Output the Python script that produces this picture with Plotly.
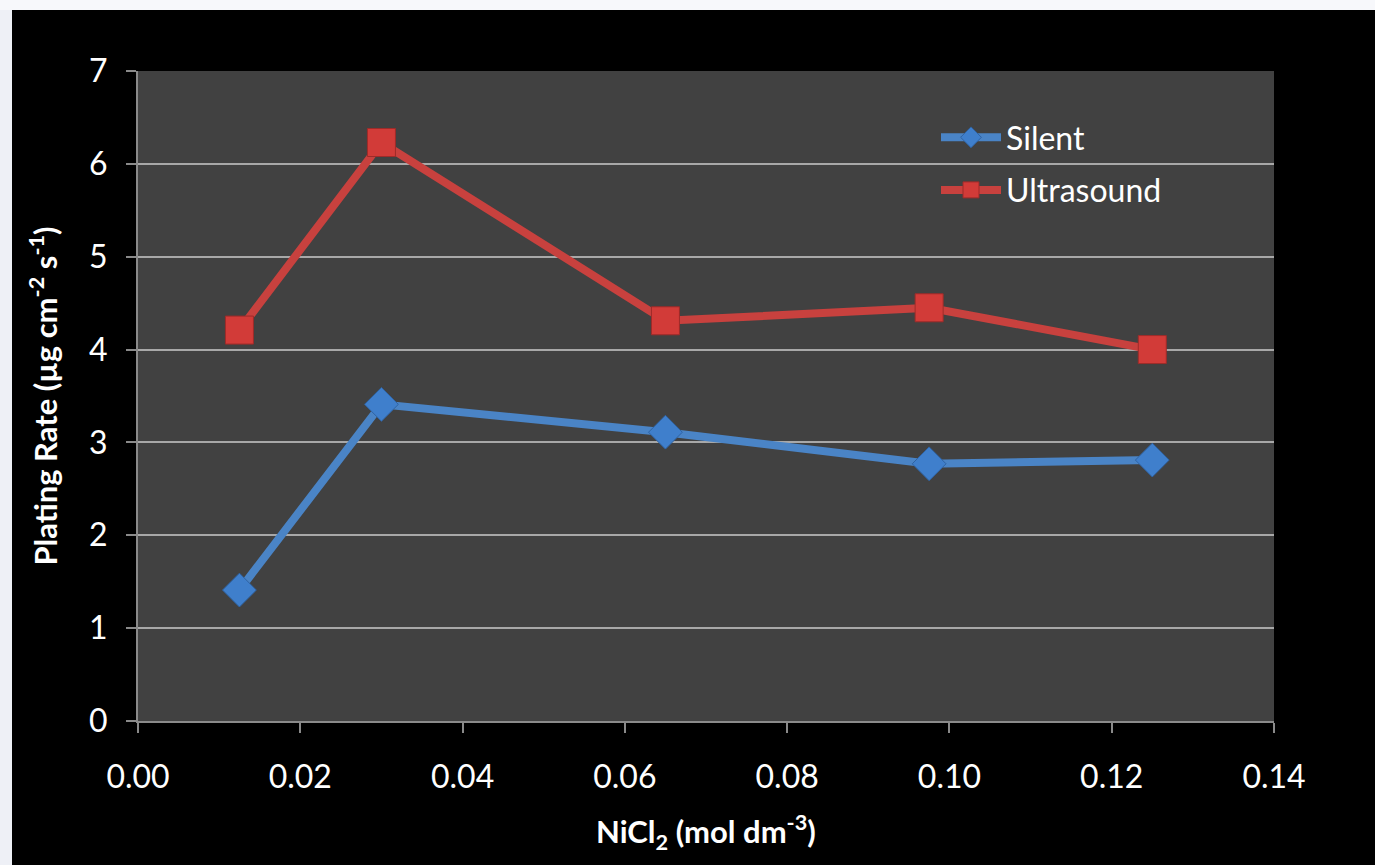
import plotly.graph_objects as go

# Data
nicl2 = [0.0125, 0.03, 0.065, 0.0975, 0.125]
silent = [1.41, 3.41, 3.11, 2.77, 2.81]
ultrasound = [4.21, 6.23, 4.31, 4.45, 4.00]
x_ticks = [0.00, 0.02, 0.04, 0.06, 0.08, 0.10, 0.12, 0.14]
y_ticks = [0, 1, 2, 3, 4, 5, 6, 7]
x_title = "<b>NiCl<sub>2</sub> (mol dm<sup>-3</sup>)</b>"
y_title = "<b>Plating Rate (µg cm<sup>-2</sup> s<sup>-1</sup>)</b>"

W, H = 1375, 865
L, R, T, B = 138, 101, 71, 144
pw, ph = W - L - R, H - T - B

FONT = "Lato"

fig = go.Figure()
fig.add_trace(go.Scatter(
    x=nicl2, y=silent, name="Silent", mode="lines+markers", legendgroup="s",
    line=dict(color="#4a84c6", width=8),
    marker=dict(symbol="diamond", size=26, color="#3f7fcc",
                line=dict(color="#2f63a3", width=1)),
))
fig.add_trace(go.Scatter(
    x=nicl2, y=ultrasound, name="Ultrasound", mode="lines+markers", legendgroup="u",
    line=dict(color="#c8413e", width=8),
    marker=dict(symbol="square", size=28, color="#d23b38",
                line=dict(color="#9e2b29", width=1)),
))

# light slide strips (left and top)
fig.add_shape(type="rect", xref="paper", yref="paper", layer="above",
              x0=-0.3, x1=(12 - L) / pw, y0=-0.4, y1=1.3,
              fillcolor="#eef0f6", line=dict(width=0))
fig.add_shape(type="rect", xref="paper", yref="paper", layer="above",
              x0=-0.3, x1=1.3, y0=(H - B - 10) / ph, y1=1.3,
              fillcolor="#f7f8fb", line=dict(width=0))

# x-axis title
fig.add_annotation(text=x_title, xref="paper", yref="paper",
                   x=0.5, y=(H - B - 832) / ph, xanchor="center", yanchor="middle",
                   showarrow=False, font=dict(size=31, color="#ffffff", family=FONT))

fig.update_layout(
    width=W, height=H,
    margin=dict(l=L, r=R, t=T, b=B, pad=0),
    paper_bgcolor="#000000",
    plot_bgcolor="#414141",
    font=dict(family=FONT, color="#ffffff", size=32),
    showlegend=True,
    legend=dict(x=(936 - L) / pw, y=(721 - 110) / ph, xanchor="left", yanchor="top",
                bgcolor="rgba(0,0,0,0)", font=dict(size=32, color="#ffffff"),
                itemwidth=60, tracegroupgap=8),
    xaxis=dict(
        range=[0, 0.14], tickvals=x_ticks,
        ticktext=[f"{v:.2f}" for v in x_ticks],
        showgrid=False, zeroline=False,
        showline=True, linecolor="#8a8a8a", linewidth=2,
        ticks="outside", ticklen=10, tickcolor="#8a8a8a", tickwidth=2,
        ticklabelstandoff=17,
        tickfont=dict(size=32, color="#ffffff"),
        mirror=False,
    ),
    yaxis=dict(
        range=[0, 7], tickvals=y_ticks,
        showgrid=True, gridcolor="#a8a8a8", gridwidth=2,
        zeroline=False,
        showline=True, linecolor="#8a8a8a", linewidth=2,
        ticks="outside", ticklen=10, tickcolor="#8a8a8a", tickwidth=2,
        ticklabelstandoff=12,
        tickfont=dict(size=32, color="#ffffff"),
        title=dict(text=y_title, font=dict(size=31, color="#ffffff"), standoff=22),
    ),
)

fig.write_html(
    "out.html",
    config={"displayModeBar": False},
    post_script="document.body.style.margin='0';document.body.style.overflow='hidden';",
)
